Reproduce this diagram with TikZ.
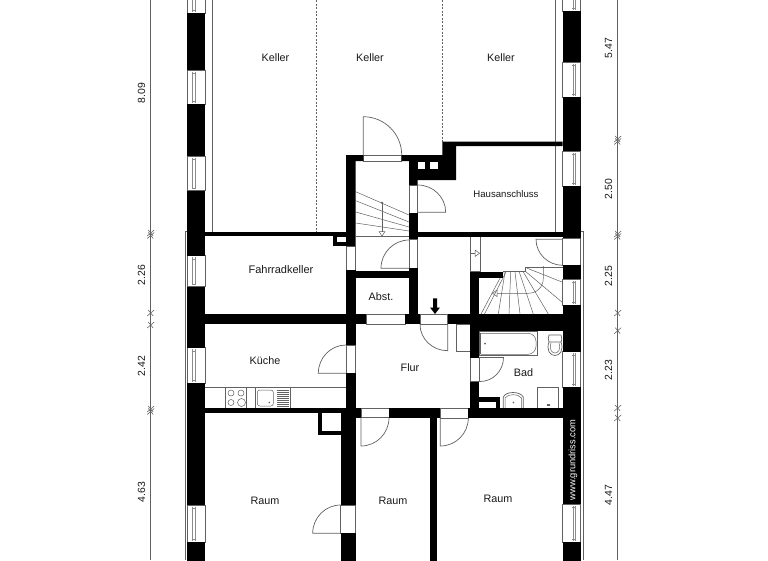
\documentclass[tikz,border=0pt]{standalone}
\usepackage{fontspec}
\setmainfont{Liberation Sans}
\usetikzlibrary{calc}
\definecolor{ln}{gray}{0.38}
\tikzset{
  wall/.style={fill=black,draw=none},
  thin line/.style={draw=ln,line width=0.7pt},
  fine/.style={draw=ln,line width=0.5pt},
  faint/.style={draw=black!45,line width=0.35pt},
  opening/.style={draw=ln,line width=0.6pt,fill=white},
  label/.style={inner sep=0pt,text=black!90,yshift=-0.7pt},
  dim/.style={inner sep=0pt,rotate=90,font=\fontsize{10.4}{10}\selectfont,text=black!90},
}
\newcommand\wl[4]{\fill[wall] (#1,#2) rectangle (#3,#4);}
\newcommand\wh[4]{\fill[white] (#1,#2) rectangle (#3,#4);}
\newcommand\op[4]{\path[opening] (#1,#2) rectangle (#3,#4);}
% leaf door: hinge, leaf end, arc end
\newcommand\door[6]{\draw[thin line] (#1,#2) -- (#3,#4) .. controls ($(#3,#4)!.5523!(#3+#5-#1,#4+#6-#2)$) and ($(#5,#6)!.5523!(#3+#5-#1,#4+#6-#2)$) .. (#5,#6);}
% window in outer walls
\newcommand\winL[2]{\path[opening] (187.3,#1) rectangle (205.3,#2);
  \draw[faint] (192.6,#1+1.5) -- (192.6,#2-1.5) (195.1,#1+1.5) -- (195.1,#2-1.5) (191.8,#1+3) -- (196,#1+3) (191.8,#2-3) -- (196,#2-3);}
\newcommand\winR[2]{\path[opening] (562.7,#1) rectangle (580.7,#2);
  \draw[faint] (572.9,#1+1.5) -- (572.9,#2-1.5) (575.4,#1+1.5) -- (575.4,#2-1.5) (572.1,#1+3) -- (576.2,#1+3) (572.1,#2-3) -- (576.2,#2-3);}
\newcommand\tick[2]{\draw[ln,line width=0.55pt] (#1-3.5,#2+3) -- (#1+3.5,#2-3) (#1-2.5,#2-3) -- (#1+2.5,#2+3);}
\begin{document}
\begin{tikzpicture}[x=1pt,y=-1pt]
\useasboundingbox (0,0) rectangle (768,560);
\fill[white] (0,0) rectangle (768,560);
\begin{scope}
\clip (0,0) rectangle (768,560);
% dimension lines
\draw[thin line] (150.7,0) -- (150.7,560) (617.7,0) -- (617.7,560);
\tick{150.7}{233}\tick{150.7}{235.5}\tick{150.7}{313}\tick{150.7}{325}\tick{150.7}{409}\tick{150.7}{411.5}
\tick{617.7}{139}\tick{617.7}{141.5}\tick{617.7}{234}\tick{617.7}{236.5}\tick{617.7}{313}\tick{617.7}{330.7}\tick{617.7}{408}\tick{617.7}{418}
% outer thin lines
\draw[thin line] (212.3,0) -- (212.3,231.7) (555.7,0) -- (555.7,231.7);
\draw[thin line] (187.3,231.7) -- (185,231.7) -- (185,560) (580.7,231.7) -- (583,231.7) -- (583,560);
% dashed partitions
\draw[fine,dash pattern=on 2pt off 1.5pt] (316.7,0) -- (316.7,231.7) (442,0) -- (442,141.7);
% windows left
\winL{-5}{13.3}\winL{70}{104.3}\winL{156}{190.7}\winL{255.7}{286.7}\winL{347.7}{383.3}\winL{505}{542.3}
% windows right
\winR{-5}{11}\winR{62.3}{97.3}\winR{151}{186}\winR{279.3}{305}\winR{351.7}{387.3}\winR{504.3}{542}
\path[opening] (562.7,238.3) rectangle (580.7,265.3);
% outer wall piers
\wl{187.3}{13.3}{205.3}{70}\wl{187.3}{104.3}{205.3}{156}\wl{187.3}{190.7}{205.3}{255.7}\wl{187.3}{286.7}{205.3}{347.7}\wl{187.3}{383.3}{205.3}{505}\wl{187.3}{542.3}{205.3}{565}
\wl{562.7}{11}{580.7}{62.3}\wl{562.7}{97.3}{580.7}{151}\wl{562.7}{186}{580.7}{238.3}\wl{562.7}{265.3}{580.7}{279.3}\wl{562.7}{305}{580.7}{351.7}\wl{562.7}{387.3}{580.7}{504.3}\wl{562.7}{542}{580.7}{565}
% openings in inner walls
\op{363.3}{155}{401.7}{161}\op{346}{246}{355.7}{270}\op{346}{345}{355.7}{373.3}
\op{366}{314.3}{405}{324.3}\op{420}{314.3}{447.7}{324.3}
\op{409}{185}{417.5}{213.3}\op{409}{239.3}{417.5}{268.3}
\op{361}{408.3}{389}{417.7}\op{440.3}{408.3}{468.3}{418}
\op{470}{357.7}{479.3}{381.7}\op{340.7}{505}{355.7}{533.3}\op{470}{236.3}{480}{271.7}
\path[opening] (456.7,324.3) rectangle (470,351);
% kitchen
\draw[thin line] (205.3,387.3) -- (346,387.3);
\draw[thin line] (225.7,387.3) rectangle (246.7,408.3) (255.7,387.3) rectangle (290.7,408.3);
\draw[fine] (231,393) circle[radius=3] (241,393) circle[radius=3] (231,402.5) circle[radius=3] (241.5,402.5) circle[radius=4];
\draw[fine,rounded corners=2.5pt] (257.3,390) rectangle (273.3,406);
\fill[ln] (269.3,402.5) circle[radius=0.9];
\foreach \sy in {390.5,392.5,...,406.5}{\draw[fine] (277,\sy) -- (288.5,\sy);}
% stairs (north)
\draw[thin line] (355.7,236) -- (409,236);
\draw[fine] (355.7,191.7) -- (409,215) (355.7,200.7) -- (409,222) (355.7,212) -- (409,227) (355.7,223) -- (409,231) ;
\draw[fine] (382,202.7) -- (382,231.5);
\fill[ln] (382,202.7) circle[radius=1.1];
\draw[fine] (379,231.5) -- (385,231.5) -- (382,236) -- cycle;
% arrow in opening
\draw[fine] (470,253.3) -- (475,253.3);
\draw[fine] (475,250) -- (479.5,253.3) -- (475,256.5) -- cycle;
% spiral stairs
\draw[thin line] (503.3,271.7) -- (525,271.7) -- (525,267.3) -- (562.7,267.3);
\draw[fine] (481,314) -- (503.3,272) (484.5,314) -- (506,272);
\draw[fine] (505,272) -- (498.3,314) (510.7,272) -- (509,314) (515,272) -- (520,314) (519.3,272) -- (533.3,314) (523.3,272) -- (548.3,314) (525,271) -- (562.7,302.7) (526.7,268) -- (562.7,282.3);
\fill[ln] (543.3,267.3) circle[radius=1.1];
\draw[fine] (543.3,267.3) -- (543.3,278) .. controls (543.3,287) and (537,293.3) .. (528,293.3) -- (497,293.3);
\draw[fine] (497,290) -- (492.5,293.3) -- (497,296.5) -- cycle;
% bath
\draw[thin line] (479.3,331) rectangle (537.7,355.7);
\draw[fine,rounded corners=8pt] (480.7,333.3) -- (536,333.3) -- (536,354.3) -- (480.7,354.3);
\draw[fine] (480.7,333.3) -- (480.7,354.3);
\fill[ln] (485,343.5) circle[radius=1];
% toilet
\draw[thin line] (549,335) -- (561,335) .. controls (562,339) and (562,341) .. (561,342) -- (549,342) .. controls (548,340) and (548,337) .. (549,335) -- cycle;
\draw[thin line] (549,342) .. controls (546,350) and (550,355.5) .. (555,355.5) .. controls (560,355.5) and (564,350) .. (561,342);
\draw[fine] (551,343) .. controls (549,350) and (552,353) .. (555,353) .. controls (558,353) and (561,350) .. (559,343);
% basin
\draw[thin line] (503.3,408) -- (503.3,397) .. controls (506,391) and (520,391) .. (523.3,397) -- (523.3,408);
\draw[fine] (505,408) -- (505,398) .. controls (508,393.5) and (518.5,393.5) .. (521.5,398) -- (521.5,408);
\fill[ln] (513.5,402.5) circle[radius=0.8];
% box
\draw[thin line] (537.7,408) -- (537.7,387.3) -- (558.3,387.3) -- (558.3,408);
\draw[fine] (546.5,404) -- (549.5,404) (546.5,405.5) -- (549.5,405.5);
% inner walls
\fill[wall] (442.3,141.7) -- (562.7,141.7) -- (562.7,146) -- (456,146) -- (456,180) -- (417.5,180) -- (417.5,185) -- (409,185) -- (409,161) -- (401.7,161) -- (401.7,155) -- (442.3,155) -- cycle;
\wh{417.7}{161.7}{425.3}{169.3}\wh{430}{161.7}{437.7}{169.3}
\wl{409}{213.3}{417.5}{239.3}
\fill[wall] (346,155) -- (363.3,155) -- (363.3,161) -- (355.7,161) -- (355.7,246) -- (346,246) -- cycle;
\wl{205.3}{231.7}{346}{236.3}
\wl{417.5}{231.7}{562.7}{236.5}
\wl{332.7}{236.3}{346}{246}\wh{337.3}{236.7}{346}{241.7}
\wl{346}{270}{355.7}{345}
\wl{205.3}{314.3}{366}{324.3}
\wl{355.7}{271}{409}{278.3}
\wl{409}{268.3}{417.5}{323.3}
\wl{405}{314.3}{420}{324.3}
\wl{447.7}{314.3}{562.7}{324.3}
\wl{470}{324}{562.7}{331}
\wl{470}{271.7}{479.3}{357.7}
\wl{470}{271.7}{503.3}{278.3}
\wl{470}{381.7}{479.3}{408.3}
\wl{479.3}{397.3}{500}{408.3}\wh{479.3}{401.7}{496}{407.7}
\wl{346}{373.3}{355.7}{408.3}
\wl{205.3}{408.3}{360.7}{412.7}
\wl{355.7}{408.3}{360.7}{417.7}
\wl{340.7}{412.7}{355.7}{505}
\wl{317.7}{412.7}{321.7}{435}\wl{317.7}{431}{340.7}{435}
\wl{389}{408.3}{440.3}{418.3}
\wl{468.3}{408.3}{562.7}{418}
\wl{429.7}{418}{437.3}{565}
\wl{340.7}{533.3}{355.7}{565}
% doors
\door{363.3}{155}{363.3}{116.7}{401.7}{155}
\door{417.7}{212.3}{445.7}{212.3}{417.7}{185}
\door{409.3}{268.3}{381}{268.3}{409.3}{240}
\door{346}{373.3}{318.3}{373.3}{346}{345}
\door{447.7}{324.3}{447.7}{350.7}{420}{324.3}
\door{480}{357.5}{503.5}{357.5}{480}{381.5}
\door{562.7}{239.3}{536}{239.3}{562.7}{265.3}
\door{361}{417.7}{361}{446}{389}{417.7}
\door{440.3}{418}{440.3}{446}{468.3}{418}
\door{340.7}{533.3}{312.7}{533.3}{340.7}{505}
% entrance arrow
\fill[black] (433,298.3) -- (437,298.3) -- (437,307.5) -- (440,307.5) -- (435,314) -- (430,307.5) -- (433,307.5) -- cycle;
\end{scope}
% room labels
\node[label,font=\fontsize{10.8}{11}\selectfont] (k1) at (275.5,57) {Keller};
\node[label,font=\fontsize{10.8}{11}\selectfont] (k2) at (370,57) {Keller};
\node[label,font=\fontsize{10.8}{11}\selectfont] (k3) at (501,57) {Keller};
\node[label,font=\fontsize{9.6}{11}\selectfont] (ha) at (506,193.5) {Hausanschluss};
\node[label,font=\fontsize{11}{11}\selectfont] (fk) at (281,269) {Fahrradkeller};
\node[label,font=\fontsize{10.8}{11}\selectfont] (ab) at (381,296) {Abst.};
\node[label,font=\fontsize{10.8}{11}\selectfont] (ku) at (265,360) {Küche};
\node[label,font=\fontsize{10.8}{11}\selectfont] (fl) at (410,367) {Flur};
\node[label,font=\fontsize{10.8}{11}\selectfont] (bd) at (523.5,372) {Bad};
\node[label,font=\fontsize{10.8}{11}\selectfont] (r1) at (265,500) {Raum};
\node[label,font=\fontsize{10.8}{11}\selectfont] (r2) at (393,500) {Raum};
\node[label,font=\fontsize{10.8}{11}\selectfont] (r3) at (498,498) {Raum};
\node[inner sep=0pt,rotate=90,text=white,font=\fontsize{9.3}{10}\selectfont] (wm) at (573,460) {www.grundriss.com};
% dimension labels
\node[dim] (d1) at (141.5,93) {8.09};
\node[dim] (d2) at (141.5,275) {2.26};
\node[dim] (d3) at (141.5,366) {2.42};
\node[dim] (d4) at (141.5,492) {4.63};
\node[dim] (d5) at (608.5,48) {5.47};
\node[dim] (d6) at (608.5,189) {2.50};
\node[dim] (d7) at (608.5,276) {2.25};
\node[dim] (d8) at (608.5,370) {2.23};
\node[dim] (d9) at (608.5,495) {4.47};
\end{tikzpicture}
\end{document}
